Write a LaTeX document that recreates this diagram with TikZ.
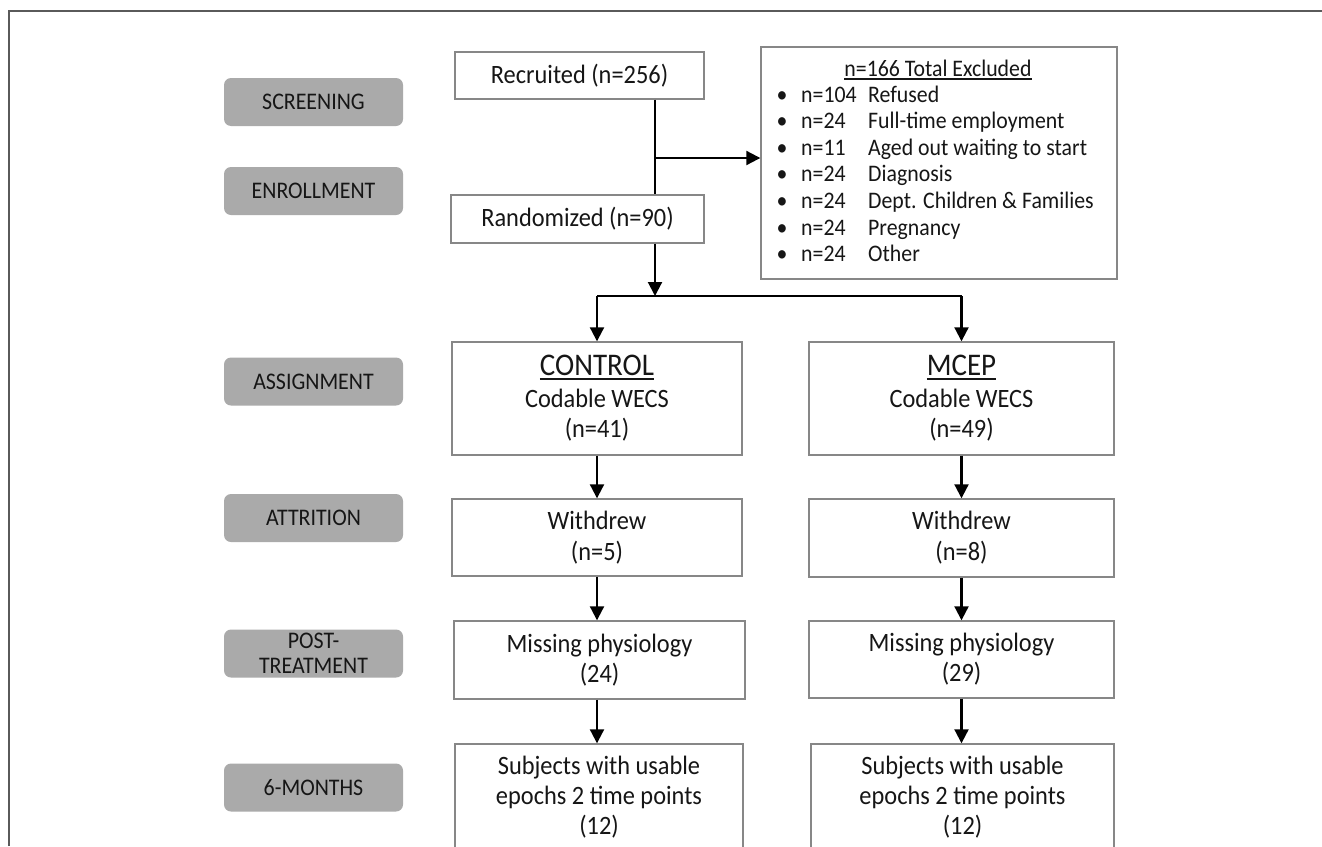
\documentclass[tikz,border=0pt]{standalone}
\usepackage{fontspec}
\setmainfont{Carlito}[FakeStretch=0.92]
\usetikzlibrary{arrows.meta}
\definecolor{labgray}{RGB}{170,170,170}
\definecolor{boxgray}{RGB}{135,135,135}
\definecolor{framegray}{RGB}{90,90,90}
\definecolor{txt}{RGB}{22,22,22}
\newsavebox\ulsb
\newcommand\ulbox[3]{\sbox\ulsb{#3}\rlap{\rule[-#1]{\wd\ulsb}{#2}}\usebox\ulsb}
\begin{document}
\begin{tikzpicture}[x=1pt,y=-1pt,
  lab/.style={fill=labgray, rounded corners=7pt, minimum width=179pt, minimum height=48pt,
    inner sep=0pt, align=center, text=txt, font=\fontsize{23.8}{25}\selectfont},
  box/.style={draw=boxgray, line width=1.4pt, fill=white, inner sep=0pt, align=center,
    text=txt, font=\fontsize{26.5}{30}\selectfont},
  listtxt/.style={inner sep=0pt, text=txt, font=\fontsize{23.7}{26}\selectfont},
  arr/.style={-{Triangle[length=14pt,width=14pt]}, line width=2.1pt, black},
  conn/.style={line width=2.1pt, black}]
\useasboundingbox (0,0) rectangle (1322,846);
\clip (0,0) rectangle (1322,846);
\fill[white] (0,0) rectangle (1322,846);
\draw[framegray, line width=1.3pt] (9,846) -- (9,11) -- (1322,11);

% stage labels
\node[lab] (scr) at (313.5,102) {SCREENING};
\node[lab] (enr) at (313.5,191) {ENROLLMENT};
\node[lab] (asg) at (313.5,381.5) {ASSIGNMENT};
\node[lab] (att) at (313.5,518) {ATTRITION};
\node[lab] (post) at (313.5,653.5) {POST-\\TREATMENT};
\node[lab] (six) at (313.5,787.5) {6-MONTHS};

% top boxes
\node[box, minimum width=249pt, minimum height=47pt] (rec) at (579.5,75.5) {Recruited (n=256)};
\node[box, minimum width=253pt, minimum height=48pt] (rand) at (577.5,219) {Randomized (n=90)};
\node[box, minimum width=356pt, minimum height=232pt] (excl) at (939,163) {};

% excluded list
\node[listtxt, anchor=base] (exclt) at (938,76) {\ulbox{3.5pt}{1.4pt}{n=166 Total Excluded}};
\foreach \k/\n/\d [count=\i from 0] in {a/104/Refused, b/24/Full-time employment,
    c/11/Aged out waiting to start, d/24/Diagnosis, e/24/Dept. Children \& Families,
    f/24/Pregnancy, g/24/Other}{
  \node[listtxt, anchor=base] (bul\k) at (782,{102+26.6*\i}) {\textbullet};
  \node[listtxt, anchor=base west] (num\k) at (801,{102+26.6*\i}) {n=\n};
  \node[listtxt, anchor=base west] (why\k) at (868,{102+26.6*\i}) {\d};
}

% arms
\node[box, minimum width=290pt, minimum height=113pt] (ctrl) at (597,398.5)
  {{\fontsize{31.5}{33}\selectfont\ulbox{4pt}{2pt}{CONTROL}}\\[2pt]Codable WECS\\(n=41)};
\node[box, minimum width=305pt, minimum height=113pt] (mcep) at (961.5,398.5)
  {{\fontsize{31.5}{33}\selectfont\ulbox{4pt}{2pt}{MCEP}}\\[2pt]Codable WECS\\(n=49)};
\node[box, minimum width=290pt, minimum height=77pt] (wd1) at (597,537.5) {Withdrew\\[1pt](n=5)};
\node[box, minimum width=305pt, minimum height=78pt] (wd2) at (961.5,538) {Withdrew\\[1pt](n=8)};
\node[box, minimum width=291pt, minimum height=78pt] (mp1) at (599.5,660) {Missing physiology\\(24)};
\node[box, minimum width=305pt, minimum height=77pt] (mp2) at (961.5,659.5) {Missing physiology\\(29)};
\node[box, minimum width=288pt, minimum height=106pt] (sub1) at (599,797)
  {Subjects with usable\\epochs 2 time points\\(12)};
\node[box, minimum width=303pt, minimum height=106pt] (sub2) at (962.5,797)
  {Subjects with usable\\epochs 2 time points\\(12)};

% connectors
\coordinate (spine) at (655,158);
\coordinate (split) at (655,296);
\draw[conn] (rec.south -| spine) -- (rand.north -| spine);
\draw[arr] (spine) -- (excl.west |- spine);
\draw[arr] (rand.south -| split) -- (split);
\draw[conn] (ctrl.north |- split) -- (mcep.north |- split);
\draw[arr] (ctrl.north |- split) -- (ctrl.north);
\draw[arr] (mcep.north |- split) -- (mcep.north);
\draw[arr] (ctrl.south) -- (wd1.north);
\draw[arr] (mcep.south) -- (wd2.north);
\draw[arr] (wd1.south) -- (wd1.south |- mp1.north);
\draw[arr] (wd2.south) -- (wd2.south |- mp2.north);
\draw[arr] (mp1.south -| wd1.south) -- (wd1.south |- sub1.north);
\draw[arr] (mp2.south) -- (mp2.south |- sub2.north);
\end{tikzpicture}
\end{document}
